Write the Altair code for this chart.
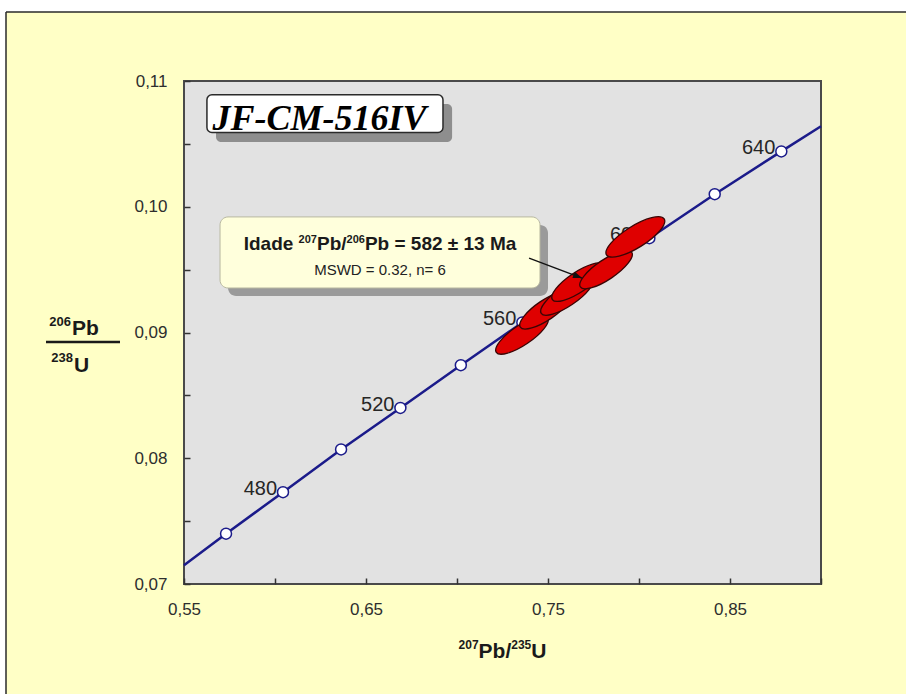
import altair as alt
import pandas as pd

SANS = "Liberation Sans"
SERIF = "Liberation Serif"

# ---- concordia curve, 207Pb/235U vs 206Pb/238U, across the plotted range ----
conc_x = [0.5500, 0.5731, 0.6044, 0.6363, 0.6689, 0.7021, 0.7359, 0.7705, 0.8057, 0.8416, 0.8782, 0.9000]
conc_y = [0.0715, 0.0740, 0.0773, 0.0807, 0.0840, 0.0874, 0.0908, 0.0941, 0.0975, 0.1010, 0.1044, 0.1064]

# age marks on the concordia (Ma)
age_ma = [460, 480, 500, 520, 540, 560, 580, 600, 620, 640]
age_x = [0.5731, 0.6044, 0.6363, 0.6689, 0.7021, 0.7359, 0.7705, 0.8057, 0.8416, 0.8782]
age_y = [0.0740, 0.0773, 0.0807, 0.0840, 0.0874, 0.0908, 0.0941, 0.0975, 0.1010, 0.1044]
labelled_ages = [480, 520, 560, 600, 640]

# zircon analyses: centres of the error ellipses
spot_x = [0.7357, 0.7489, 0.7604, 0.7665, 0.7819, 0.7980]
spot_y = [0.0898, 0.0918, 0.0929, 0.0940, 0.0950, 0.0976]

# axis ticks
x_ticks = [0.55, 0.60, 0.65, 0.70, 0.75, 0.80, 0.85, 0.90]
y_ticks = [0.070, 0.075, 0.080, 0.085, 0.090, 0.095, 0.100, 0.105, 0.110]

sample_name = "JF-CM-516IV"
age_pieces = ["Idade ", "207", "Pb/", "206", "Pb = 582 ± 13 Ma"]
stats_text = "MSWD = 0.32, n= 6"

# ---- annotation placement (data units) ----
title_box = dict(x=0.5626, x2=0.6923, y=0.1059, y2=0.1089)
title_shadow = dict(x=0.5676, x2=0.6973, y=0.10515, y2=0.10817)
title_anchor = dict(x=0.6245, y=0.1061)
age_box = dict(x=0.5698, x2=0.7456, y=0.09354, y2=0.09919)
age_shadow = dict(x=0.5742, x2=0.7500, y=0.0929, y2=0.09855)
age_anchor1 = dict(x=0.6577, y=0.09656)
age_anchor2 = dict(x=0.6577, y=0.09457)
arrow = dict(x=0.7396, y=0.09592, x2=0.7687, y2=0.09433)

# ---- colours ----
FRAME_BG = "#ffffc6"
PLOT_BG = "#e2e2e2"
NAVY = "#1b1b8a"
RED = "#df0000"
INK = "#1a1a1a"

comma = "replace(format(datum.value, '.2f'), '.', ',')"
x_axis = alt.Axis(
    values=x_ticks, labelExpr=f"round(datum.value*100) % 10 == 5 ? {comma} : ''",
    offset=-6, tickSize=6, tickWidth=1.5, tickColor="#333333", domain=False, grid=False,
    title=None, labelFont=SANS, labelFontSize=17, labelColor="#2e2e2e", labelPadding=17,
    labelFlush=False, labelOverlap=False,
)
y_axis = alt.Axis(
    values=y_ticks, labelExpr=f"round(datum.value*1000) % 10 == 0 ? {comma} : ''",
    offset=-6, tickSize=6, tickWidth=1.5, tickColor="#333333", domain=False, grid=False,
    title=None, labelFont=SANS, labelFontSize=17, labelColor="#2e2e2e", labelPadding=17,
    labelFlush=False, labelOverlap=False,
)
sx = alt.Scale(domain=[0.55, 0.90], nice=False, zero=False)
sy = alt.Scale(domain=[0.07, 0.11], nice=False, zero=False)


def X():
    return alt.X("x", type="quantitative", scale=sx, axis=x_axis)


def Y():
    return alt.Y("y", type="quantitative", scale=sy, axis=y_axis)


def row(d):
    return pd.DataFrame({k: [v] for k, v in d.items()})


one = pd.DataFrame({"k": [0]})

conc_df = pd.DataFrame({"x": conc_x, "y": conc_y})
age_df = pd.DataFrame({"age": age_ma, "x": age_x, "y": age_y})
lab_df = age_df[age_df["age"].isin(labelled_ages)]
spot_df = pd.DataFrame({"x": spot_x, "y": spot_y})


def box(d, **kw):
    return alt.Chart(row(d)).mark_rect(**kw).encode(
        x=X(), x2=alt.X2("x2"), y=Y(), y2=alt.Y2("y2"))


def px_text(s, px, py, size, align="left", weight="bold"):
    return alt.Chart(one).mark_text(
        text=s, align=align, baseline="alphabetic", font=SANS, fontSize=size,
        fontWeight=weight, color=INK,
    ).encode(x=alt.value(px), y=alt.value(py))


layers = []

# white margin outside the yellow frame, and the frame edge
layers.append(alt.Chart(one).mark_rect(fill="white").encode(
    x=alt.value(-184), x2=alt.value(722), y=alt.value(-81), y2=alt.value(-69)))
layers.append(alt.Chart(one).mark_rect(fill="white").encode(
    x=alt.value(-184), x2=alt.value(-178), y=alt.value(-81), y2=alt.value(613)))
layers.append(alt.Chart(one).mark_rule(color="#2a2a2a", strokeWidth=1.5).encode(
    x=alt.value(-178), x2=alt.value(722), y=alt.value(-69)))
layers.append(alt.Chart(one).mark_rule(color="#2a2a2a", strokeWidth=1.5).encode(
    x=alt.value(-178), y=alt.value(-69), y2=alt.value(613)))

# sample name box
layers.append(box(title_shadow, fill="#8e8e8e", cornerRadius=5))
layers.append(box(title_box, fill="white", stroke="#2a2a2a", strokeWidth=1.5, cornerRadius=5))
layers.append(alt.Chart(row(title_anchor)).mark_text(
    text=sample_name, font=SERIF, fontSize=36, fontWeight="bold", fontStyle="italic",
    align="center", baseline="alphabetic", color="black",
).encode(x=X(), y=Y()))

# age result box
layers.append(box(age_shadow, fill="#9a9a9a", cornerRadius=8))
layers.append(box(age_box, fill="#ffffdc", stroke="#b8b8a0", strokeWidth=1, cornerRadius=8))

# first line built from pieces so the mass numbers sit as superscripts
W = {"I": .278, "d": .611, "a": .556, "e": .556, " ": .278, "P": .667, "b": .611, "/": .278,
     "=": .584, "±": .549, "M": .833, "U": .722}
for ch in "0123456789":
    W[ch] = .556


def width(s, size):
    return sum(W.get(c, .556) for c in s) * size


BIG, SUP = 19, 11
sizes = [BIG, SUP, BIG, SUP, BIG]
total = sum(width(s, z) for s, z in zip(age_pieces, sizes))
offset = -total / 2
for s, z in zip(age_pieces, sizes):
    layers.append(alt.Chart(row(age_anchor1)).mark_text(
        text=s, font=SANS, fontSize=z, fontWeight="bold", align="left",
        baseline="alphabetic", color=INK, dx=offset, dy=-7 if z == SUP else 0,
    ).encode(x=X(), y=Y()))
    offset += width(s, z)
layers.append(alt.Chart(row(age_anchor2)).mark_text(
    text=stats_text, font=SANS, fontSize=15, align="center", baseline="alphabetic", color="#222222",
).encode(x=X(), y=Y()))

# concordia with age marks
layers.append(alt.Chart(conc_df).mark_line(color=NAVY, strokeWidth=2.5).encode(x=X(), y=Y()))
layers.append(alt.Chart(lab_df).mark_text(
    align="right", baseline="alphabetic", dx=-6, dy=3, font=SANS, fontSize=20, color="#262626",
).encode(x=X(), y=Y(), text="age:Q"))
layers.append(alt.Chart(age_df).mark_point(
    shape="circle", size=120, filled=True, fill="white", stroke=NAVY, strokeWidth=1.5, opacity=1,
).encode(x=X(), y=Y()))

# error ellipses
ELL = "M -1 0 A 1 0.32 0 1 1 1 0 A 1 0.32 0 1 1 -1 0 Z"
ELL_BIG = "M -1 0 A 1 0.32 0 1 1 1 0 A 1 0.32 0 1 1 -1 0 Z"
layers.append(alt.Chart(spot_df.iloc[:5]).mark_point(
    shape=ELL, size=3844, angle=326, filled=True, fill=RED, stroke="#3a0505", strokeWidth=1.3, opacity=1,
).encode(x=X(), y=Y()))
layers.append(alt.Chart(spot_df.iloc[5:]).mark_point(
    shape=ELL_BIG, size=4624, angle=328, filled=True, fill=RED, stroke="#3a0505", strokeWidth=1.3, opacity=1,
).encode(x=X(), y=Y()))

# arrow from the result box to the ellipses
layers.append(alt.Chart(row(arrow)).mark_rule(color="#111111", strokeWidth=1.4).encode(
    x=X(), y=Y(), x2=alt.X2("x2"), y2=alt.Y2("y2")))
layers.append(alt.Chart(row({"x": arrow["x2"], "y": arrow["y2"]})).mark_point(
    shape="M 0 0 L -1 -0.38 L -1 0.38 Z", size=324, angle=21, filled=True, fill="#111111",
    strokeWidth=0, opacity=1,
).encode(x=X(), y=Y()))

# axis titles
xt = [("207", 12), ("Pb/", 21), ("235", 12), ("U", 21)]
xt_total = sum(width(s, z) for s, z in xt)
pos = 318.5 - xt_total / 2
for s, z in xt:
    layers.append(px_text(s, pos, 577 if z == 21 else 568, z))
    pos += width(s, z)

layers.append(px_text("206", -113, 245, 13, align="right"))
layers.append(px_text("Pb", -112, 254, 21))
layers.append(alt.Chart(one).mark_rule(color=INK, strokeWidth=2.5).encode(
    x=alt.value(-138), x2=alt.value(-64), y=alt.value(261)))
layers.append(px_text("238", -111, 281, 13, align="right"))
layers.append(px_text("U", -110, 291, 21))

chart = alt.layer(*layers).properties(
    width=637, height=503,
    autosize=alt.AutoSizeParams(type="none"),
    padding={"left": 184, "top": 81, "right": 85, "bottom": 110},
    background=FRAME_BG,
).configure_view(fill=PLOT_BG, stroke="#4a4a4a", strokeWidth=2)

chart.save("out.html", embed_options={"renderer": "svg", "actions": False})
